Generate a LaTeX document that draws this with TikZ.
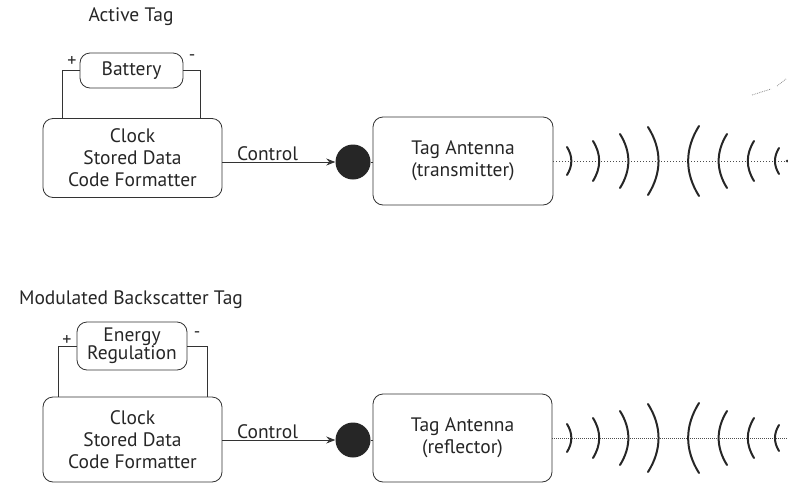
\documentclass[tikz,border=0pt]{standalone}
\usepackage{fontspec}
\setmainfont{PT Sans}
\usetikzlibrary{positioning,arrows.meta}

\begin{document}
\begin{tikzpicture}[x=1pt,y=-1pt]
        \tikzstyle{every node}=[font=\fontsize{19.5}{22}\selectfont, text=black!85]
        \tikzstyle{box}=[draw=black!80, line width=0.8pt, rounded corners=10pt, align=center, inner sep=0pt]
        \tikzstyle{sign}=[font=\fontsize{18}{18}\selectfont, inner sep=0pt]
        \tikzstyle{wire}=[draw=black!80, line width=0.8pt]
        \tikzstyle{dotnode}=[circle, fill=black!85, minimum size=35pt, inner sep=0pt]
        \tikzstyle{wave}=[line width=2pt, line cap=round, black!85]

        \useasboundingbox (0,0) rectangle (788,485);

        % active tag
        \node   (title1) at (131,17) {Active Tag};
        \node   (bat1)   [box, minimum width=103pt, minimum height=35pt] at (131.5,70.5) {Battery};
        \node   (main1)  [box, minimum width=179pt, minimum height=79pt] at (132.5,158) {Clock\\Stored Data\\Code Formatter};
        \node   (dot1)   [dotnode] at (353,162) {};
        \node   (ant1)   [box, minimum width=180pt, minimum height=88pt] at (463,161) {Tag Antenna\\(transmitter)};
        \node   (plus1)  [sign] at (72,62) {+};
        \node   (minus1) [sign] at (192,58) {-};
        \coordinate (end1) at (787,161);

        \draw[wire] (bat1.west) -| ([xshift=20pt]main1.north west);
        \draw[wire] (bat1.east) -| ([xshift=-22pt]main1.north east);
        \draw[wire, -{Stealth[length=9pt, width=7pt]}] (main1.east |- dot1.west) -- (dot1.west)
                        node[pos=0.4, above, inner sep=1pt] {Control};
        \draw[wire] (dot1.east) -- (dot1.east -| ant1.west);
        \draw[black!70, dotted, line width=1pt] (ant1.east) -- (end1);
        \fill[black!80] (end1) circle (1.5pt);

        \draw[wave] (567,147) to[bend left=32] (567,175)
                    (593,141) to[bend left=32] (593,181)
                    (620,134) to[bend left=32] (620,188)
                    (648,127) to[bend left=32] (648,195)
                    (699,126) to[bend right=32] (699,196)
                    (727,134) to[bend right=32] (727,188)
                    (754,141) to[bend right=32] (754,181)
                    (779,148) to[bend right=32] (779,174);

        \draw[black!45, densely dotted, line width=0.8pt] (752,95) -- (771,89) (777,86) -- (786,79);

        % modulated backscatter tag
        \node   (title2) at (131,300) {Modulated Backscatter Tag};
        \node   (reg2)   [box, minimum width=110pt, minimum height=48pt] at (132,346) {Energy\\[-4pt]Regulation};
        \node   (main2)  [box, minimum width=179pt, minimum height=85pt] at (132.5,439.5) {Clock\\Stored Data\\Code Formatter};
        \node   (dot2)   [dotnode] at (353,440) {};
        \node   (ant2)   [box, minimum width=179pt, minimum height=88pt] at (462.5,438) {Tag Antenna\\(reflector)};
        \node   (plus2)  [sign] at (67,341) {+};
        \node   (minus2) [sign] at (197,335) {-};
        \coordinate (end2) at (787,438);

        \draw[wire] (reg2.west) -| ([xshift=16pt]main2.north west);
        \draw[wire] (reg2.east) -| ([xshift=-15pt]main2.north east);
        \draw[wire, -{Stealth[length=9pt, width=7pt]}] (main2.east |- dot2.west) -- (dot2.west)
                        node[pos=0.4, above, inner sep=1pt] {Control};
        \draw[wire] (dot2.east) -- (dot2.east -| ant2.west);
        \draw[black!70, densely dotted, line width=1pt] (ant2.east) -- (end2);

        \draw[wave] (567,424) to[bend left=32] (567,452)
                    (593,418) to[bend left=32] (593,458)
                    (620,411) to[bend left=32] (620,465)
                    (648,404) to[bend left=32] (648,472)
                    (699,403) to[bend right=32] (699,473)
                    (727,411) to[bend right=32] (727,465)
                    (754,418) to[bend right=32] (754,458)
                    (779,425) to[bend right=32] (779,451);

    \end{tikzpicture}
\end{document}
